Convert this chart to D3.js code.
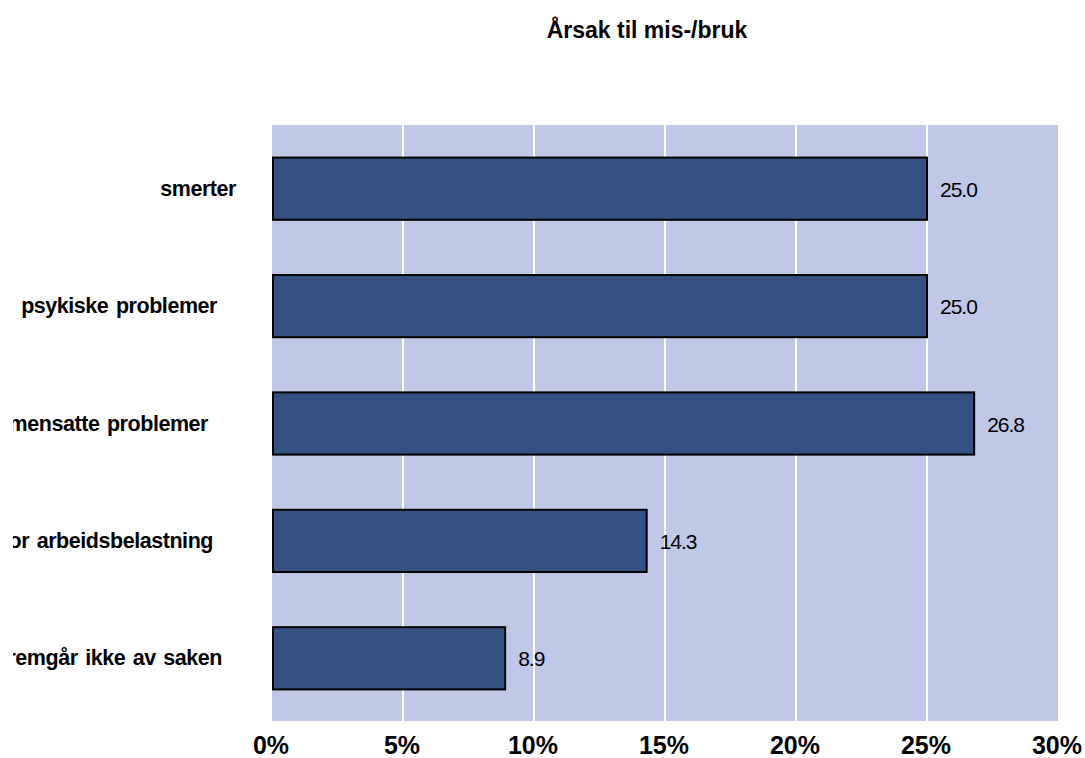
<!DOCTYPE html>
<html>
<head>
<meta charset="utf-8">
<script src="https://cdn.jsdelivr.net/npm/d3@7"></script>
<style>
  html, body { margin: 0; padding: 0; background: #ffffff; }
  svg { display: block; font-family: "Liberation Sans", Arial, sans-serif; }
</style>
</head>
<body>
<svg id="chart" width="1085" height="758"></svg>
<script>
// ---- data ----
const title = "Årsak til mis-/bruk";
const categories = ["smerter", "psykiske problemer", "sammensatte problemer", "stor arbeidsbelastning", "fremgår ikke av saken"];
const values = [25.0, 25.0, 26.8, 14.3, 8.9];
const tickValues = [0, 5, 10, 15, 20, 25, 30];
const tickLabels = ["0%", "5%", "10%", "15%", "20%", "25%", "30%"];

// ---- layout ----
const plot = { left: 272, right: 1058, top: 125, bottom: 721 };
const bandTop = 130, bandBottom = 717;
// right edge of each category label (labels in the original are not aligned)
const labelRight = [236, 217, 208, 213, 222];
// the original clips the label area at its left side
const labelClipLeft = 13;

const svg = d3.select("#chart");

svg.append("defs").append("clipPath").attr("id", "labelClip")
  .append("rect").attr("x", labelClipLeft).attr("y", 0)
  .attr("width", plot.left - labelClipLeft).attr("height", 758);

const x = d3.scaleLinear().domain([0, 30]).range([plot.left, plot.right]);
const y = d3.scaleBand().domain(categories).range([bandTop, bandBottom]).paddingInner(0.47).paddingOuter(0.235);

// plot background
svg.append("rect")
  .attr("x", plot.left).attr("y", plot.top)
  .attr("width", plot.right - plot.left).attr("height", plot.bottom - plot.top)
  .attr("fill", "#bfc8e6");

// grid lines
svg.append("g").selectAll("line")
  .data(tickValues.filter(d => d > 0 && d < 30))
  .join("line")
  .attr("x1", d => x(d)).attr("x2", d => x(d))
  .attr("y1", plot.top).attr("y2", plot.bottom)
  .attr("stroke", "#ffffff").attr("stroke-width", 2);

// bars
svg.append("g").selectAll("rect")
  .data(categories.map((c, i) => ({ c, v: values[i] })))
  .join("rect")
  .attr("x", x(0) + 1)
  .attr("y", d => y(d.c))
  .attr("width", d => x(d.v) - x(0) - 1)
  .attr("height", y.bandwidth())
  .attr("fill", "#335182")
  .attr("stroke", "#000000")
  .attr("stroke-width", 2);

// value labels
svg.append("g").selectAll("text")
  .data(categories.map((c, i) => ({ c, v: values[i] })))
  .join("text")
  .attr("x", d => x(d.v) + 13)
  .attr("y", d => y(d.c) + y.bandwidth() / 2 + 8)
  .attr("font-size", 21)
  .attr("letter-spacing", -1)
  .attr("fill", "#000")
  .text(d => d.v.toFixed(1));

// category labels
svg.append("g").attr("clip-path", "url(#labelClip)").selectAll("text")
  .data(categories)
  .join("text")
  .attr("x", (d, i) => labelRight[i])
  .attr("y", d => y(d) + y.bandwidth() / 2 + 7)
  .attr("text-anchor", "end")
  .attr("font-size", 21.5)
  .attr("font-weight", "bold")
  .attr("letter-spacing", -0.45)
  .attr("word-spacing", 2)
  .attr("fill", "#000")
  .text(d => d);

// x axis tick labels
svg.append("g").selectAll("text")
  .data(tickValues)
  .join("text")
  .attr("x", d => x(d) - 1)
  .attr("y", 754)
  .attr("text-anchor", "middle")
  .attr("font-size", 25)
  .attr("font-weight", "bold")
  .attr("fill", "#000")
  .text((d, i) => tickLabels[i]);

// title
svg.append("text")
  .attr("x", 647).attr("y", 38)
  .attr("text-anchor", "middle")
  .attr("font-size", 23)
  .attr("font-weight", "bold")
  .attr("letter-spacing", 0)
  .attr("fill", "#000")
  .text(title);
</script>
</body>
</html>
